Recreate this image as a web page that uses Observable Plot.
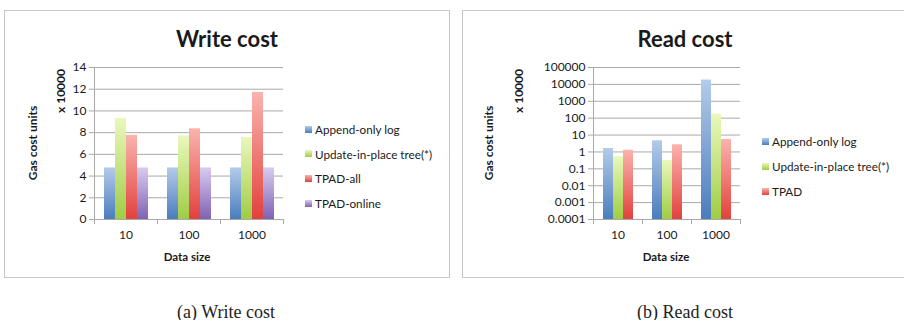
<!DOCTYPE html>
<html><head><meta charset="utf-8">
<script src="https://cdn.jsdelivr.net/npm/d3@7"></script>
<script src="https://cdn.jsdelivr.net/npm/@observablehq/plot@0.6"></script>
<style>
html,body{margin:0;padding:0;background:#fff}
body{width:904px;height:320px;position:relative;overflow:hidden;font-family:Lato,"Open Sans",sans-serif;color:#1a1a1a}
.panel{position:absolute;top:10px;height:268px;border:1.5px solid #c6c6c6;box-sizing:border-box}
.abs{position:absolute;white-space:nowrap;transform:translate(-50%,-50%)}
.rot{transform:translate(-50%,-50%) rotate(-90deg)}
.title{font-weight:bold;font-size:22px}
.ylab{font-weight:bold;font-size:12px}
.xlab{font-weight:bold;font-size:11.5px}
.cap{font-family:"Liberation Serif","DejaVu Serif",serif;font-size:18px;color:#222}
.leg{position:absolute;font-size:11.7px;white-space:nowrap;display:flex;align-items:center;transform:translateY(-50%)}
.sw{width:7px;height:7px;margin-right:3px}
svg{position:absolute;top:10px}
</style>
</head><body>
<div class="panel" style="left:4px;width:446px"></div>
<div class="panel" style="left:462px;width:460px"></div>
<script>
const sizes = ["10", "100", "1000"];

const writeSeries = ["Append-only log", "Update-in-place tree(*)", "TPAD-all", "TPAD-online"];
const writeAppend = [4.75, 4.75, 4.75];
const writeUpdate = [9.3, 7.7, 7.55];
const writeTpadAll = [7.75, 8.35, 11.7];
const writeTpadOnline = [4.75, 4.75, 4.75];
const writeTicks = [0, 2, 4, 6, 8, 10, 12, 14];

const readSeries = ["Append-only log", "Update-in-place tree(*)", "TPAD"];
const readAppend = [1.6, 4.6, 18000];
const readUpdate = [0.52, 0.31, 176];
const readTpad = [1.26, 2.65, 5.5];
const readTicks = [0.0001, 0.001, 0.01, 0.1, 1, 10, 100, 1000, 10000, 100000];

const colorStops = {
  "Append-only log": ["#b4cbea", "#4a7dbd"],
  "Update-in-place tree(*)": ["#eaf8bc", "#9fcd45"],
  "TPAD-all": ["#fbb3ae", "#e2413d"],
  "TPAD": ["#fbb3ae", "#e2413d"],
  "TPAD-online": ["#d8cbef", "#8062b3"]
};

const GRID = "#a9a9a9";

function chart({series, values, yType, yDomain, yTicks, fmt, left, width, ml, mr, idp}) {
  const data = [];
  series.forEach((s, i) => sizes.forEach((g, j) => data.push({size: g, series: s, value: values[i][j]})));
  const H = 268, mt = 57, mb = 59;
  const svg = Plot.plot({
    width, height: H, marginLeft: ml, marginRight: mr, marginTop: mt, marginBottom: mb,
    style: {fontFamily: "Lato, sans-serif", fontSize: "12px", color: "#1a1a1a", background: "transparent", overflow: "visible"},
    fx: {domain: sizes, padding: 0, label: null, axis: null},
    x: {domain: series, paddingInner: 0, paddingOuter: 0.74, axis: null},
    y: {type: yType, domain: yDomain, axis: null},
    color: {domain: series, range: series.map((_, i) => `url(#${idp}${i})`)},
    marks: [
      Plot.ruleY(yTicks, {stroke: GRID}),
      Plot.barY(data, {fx: "size", x: "series", y1: yDomain[0], y2: "value", fill: "series"}),
      Plot.frame({anchor: "left", facetAnchor: "left", stroke: GRID}),
      Plot.frame({anchor: "left", insetTop: H - mt - mb, insetBottom: -4, stroke: GRID}),
      Plot.frame({anchor: "right", insetTop: H - mt - mb, insetBottom: -4, stroke: GRID}),
      Plot.axisY({ticks: yTicks, tickFormat: fmt, tickSize: 5, tickPadding: 3, stroke: GRID, label: null}),
      Plot.axisFx({anchor: "bottom", tickSize: 0, tickPadding: 11, label: null})
    ]
  });
  const defs = d3.select(svg).insert("defs", ":first-child");
  series.forEach((s, i) => {
    const g = defs.append("linearGradient").attr("id", `${idp}${i}`)
      .attr("x1", 0).attr("y1", 0).attr("x2", 0).attr("y2", 1);
    g.append("stop").attr("offset", 0).attr("stop-color", colorStops[s][0]);
    g.append("stop").attr("offset", 1).attr("stop-color", colorStops[s][1]);
  });
  svg.style.left = left + "px";
  document.body.appendChild(svg);
}

chart({series: writeSeries, values: [writeAppend, writeUpdate, writeTpadAll, writeTpadOnline],
  yType: "linear", yDomain: [0, 14], yTicks: writeTicks, fmt: d => String(d),
  left: 4, width: 446, ml: 90, mr: 167, idp: "wg"});
chart({series: readSeries, values: [readAppend, readUpdate, readTpad],
  yType: "log", yDomain: [0.0001, 100000], yTicks: readTicks, fmt: d => String(d),
  left: 462, width: 442, ml: 130, mr: 164, idp: "rg"});

function addText(text, x, y, cls) {
  const d = document.createElement("div");
  d.className = "abs " + cls;
  d.textContent = text;
  d.style.left = x + "px"; d.style.top = y + "px";
  document.body.appendChild(d);
}
function addLegend(series, x, ys) {
  series.forEach((s, i) => {
    const d = document.createElement("div");
    d.className = "leg";
    d.style.left = x + "px"; d.style.top = ys[i] + "px";
    const sw = document.createElement("span");
    sw.className = "sw";
    sw.style.background = `linear-gradient(${colorStops[s][0]}, ${colorStops[s][1]})`;
    d.appendChild(sw);
    d.appendChild(document.createTextNode(s));
    document.body.appendChild(d);
  });
}

addText("Write cost", 227, 38, "title");
addText("Gas cost units", 32, 143, "ylab rot");
addText("x 10000", 60, 91, "ylab rot");
addText("Data size", 187, 256, "xlab");
addLegend(writeSeries, 305, [129, 153.7, 178.3, 203]);

addText("Read cost", 685, 38, "title");
addText("Gas cost units", 488, 143, "ylab rot");
addText("x 10000", 518, 91, "ylab rot");
addText("Data size", 666, 256, "xlab");
addLegend(readSeries, 762, [141, 166, 191]);

addText("(a) Write cost", 226, 312, "cap");
addText("(b) Read cost", 685, 312, "cap");
</script>
</body></html>
